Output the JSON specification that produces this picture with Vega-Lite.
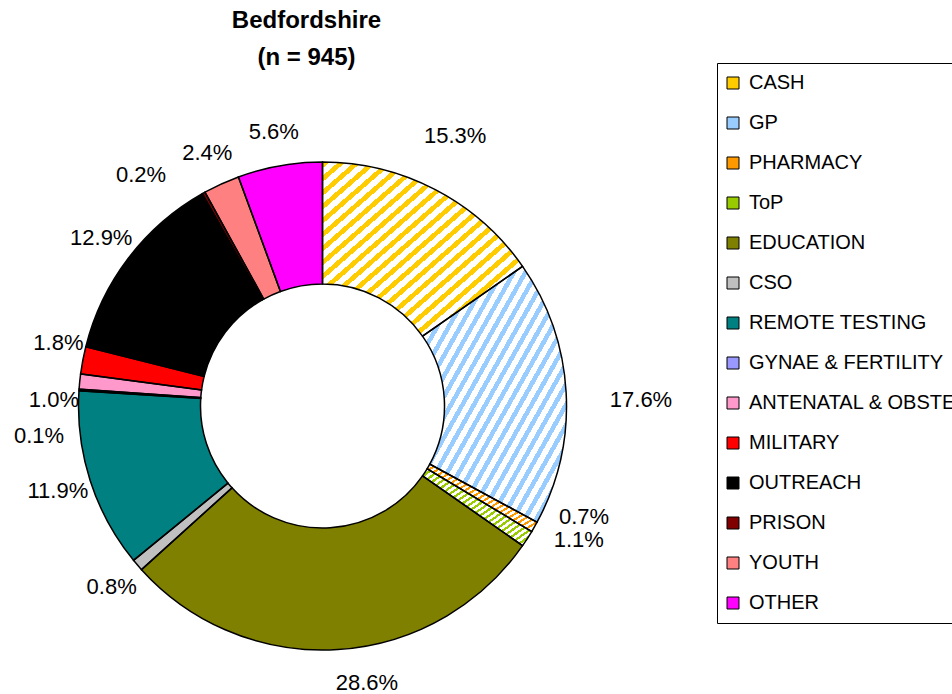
{
  "$schema": "https://vega.github.io/schema/vega-lite/v6.json",
  "autosize": {"type": "none"},
  "width": 645,
  "height": 488,
  "padding": {"left": 0, "top": 162, "right": 307, "bottom": 44},
  "background": "white",
  "config": {"view": {"stroke": null}, "font": "Liberation Sans"},
  "title": {
    "text": ["Bedfordshire", "(n = 945)"],
    "font": "Liberation Sans",
    "fontSize": 24,
    "fontWeight": "bold",
    "lineHeight": 37,
    "anchor": "middle",
    "dx": -16,
    "offset": -7,
    "color": "black"
  },
  "data": {
    "values": [
      {"idx": 1, "cat": "CASH", "share": 0.153},
      {"idx": 2, "cat": "GP", "share": 0.176},
      {"idx": 3, "cat": "PHARMACY", "share": 0.007},
      {"idx": 4, "cat": "ToP", "share": 0.011},
      {"idx": 5, "cat": "EDUCATION", "share": 0.286},
      {"idx": 6, "cat": "CSO", "share": 0.008},
      {"idx": 7, "cat": "REMOTE TESTING", "share": 0.119},
      {"idx": 8, "cat": "GYNAE & FERTILITY", "share": 0.001},
      {"idx": 9, "cat": "ANTENATAL & OBSTETRICS", "share": 0.010},
      {"idx": 10, "cat": "MILITARY", "share": 0.018},
      {"idx": 11, "cat": "OUTREACH", "share": 0.129},
      {"idx": 12, "cat": "PRISON", "share": 0.002},
      {"idx": 13, "cat": "YOUTH", "share": 0.024},
      {"idx": 14, "cat": "OTHER", "share": 0.056}
    ]
  },
  "encoding": {
    "theta": {"field": "share", "type": "quantitative", "stack": true},
    "order": {"field": "idx", "type": "quantitative"}
  },
  "layer": [
    {
      "mark": {"type": "arc", "outerRadius": 244, "innerRadius": 122},
      "encoding": {
        "color": {
          "field": "cat",
          "type": "nominal",
          "scale": {
            "domain": ["CASH", "GP", "PHARMACY", "ToP", "EDUCATION", "CSO", "REMOTE TESTING", "GYNAE & FERTILITY", "ANTENATAL & OBSTETRICS", "MILITARY", "OUTREACH", "PRISON", "YOUTH", "OTHER"],
            "range": ["#FFCC00", "#99CCFF", "#FF9900", "#99CC00", "#808000", "#C0C0C0", "#008080", "#9999FF", "#FF99CC", "#FF0000", "#000000", "#800000", "#FF8080", "#FF00FF"]
          },
          "legend": {
            "orient": "none",
            "legendX": 717,
            "legendY": -99,
            "direction": "vertical",
            "title": null,
            "symbolType": "square",
            "symbolSize": 144,
            "symbolOffset": -4,
            "symbolStrokeColor": "black",
            "symbolStrokeWidth": 1,
            "symbolOpacity": 1,
            "labelFont": "Liberation Sans",
            "labelFontSize": 20,
            "labelColor": "black",
            "labelLimit": 400,
            "labelOffset": 6,
            "rowPadding": 20,
            "padding": 10,
            "strokeColor": "black",
            "fillColor": "white"
          }
        }
      }
    },
    {
      "mark": {
        "type": "arc",
        "outerRadius": 244,
        "innerRadius": 122,
        "color": {
          "gradient": "linear",
          "x1": 0, "y1": 0, "x2": 1, "y2": 1,
          "stops": [
            {"offset": 0, "color": "rgba(255,255,255,0)"},
            {"offset": 0.018, "color": "rgba(255,255,255,0)"},
            {"offset": 0.018, "color": "#ffffff"},
            {"offset": 0.04, "color": "#ffffff"},
            {"offset": 0.04, "color": "rgba(255,255,255,0)"},
            {"offset": 0.058, "color": "rgba(255,255,255,0)"},
            {"offset": 0.058, "color": "#ffffff"},
            {"offset": 0.08, "color": "#ffffff"},
            {"offset": 0.08, "color": "rgba(255,255,255,0)"},
            {"offset": 0.098, "color": "rgba(255,255,255,0)"},
            {"offset": 0.098, "color": "#ffffff"},
            {"offset": 0.12, "color": "#ffffff"},
            {"offset": 0.12, "color": "rgba(255,255,255,0)"},
            {"offset": 0.138, "color": "rgba(255,255,255,0)"},
            {"offset": 0.138, "color": "#ffffff"},
            {"offset": 0.16, "color": "#ffffff"},
            {"offset": 0.16, "color": "rgba(255,255,255,0)"},
            {"offset": 0.178, "color": "rgba(255,255,255,0)"},
            {"offset": 0.178, "color": "#ffffff"},
            {"offset": 0.2, "color": "#ffffff"},
            {"offset": 0.2, "color": "rgba(255,255,255,0)"},
            {"offset": 0.218, "color": "rgba(255,255,255,0)"},
            {"offset": 0.218, "color": "#ffffff"},
            {"offset": 0.24, "color": "#ffffff"},
            {"offset": 0.24, "color": "rgba(255,255,255,0)"},
            {"offset": 0.258, "color": "rgba(255,255,255,0)"},
            {"offset": 0.258, "color": "#ffffff"},
            {"offset": 0.28, "color": "#ffffff"},
            {"offset": 0.28, "color": "rgba(255,255,255,0)"},
            {"offset": 0.298, "color": "rgba(255,255,255,0)"},
            {"offset": 0.298, "color": "#ffffff"},
            {"offset": 0.32, "color": "#ffffff"},
            {"offset": 0.32, "color": "rgba(255,255,255,0)"},
            {"offset": 0.338, "color": "rgba(255,255,255,0)"},
            {"offset": 0.338, "color": "#ffffff"},
            {"offset": 0.36, "color": "#ffffff"},
            {"offset": 0.36, "color": "rgba(255,255,255,0)"},
            {"offset": 0.378, "color": "rgba(255,255,255,0)"},
            {"offset": 0.378, "color": "#ffffff"},
            {"offset": 0.4, "color": "#ffffff"},
            {"offset": 0.4, "color": "rgba(255,255,255,0)"},
            {"offset": 0.418, "color": "rgba(255,255,255,0)"},
            {"offset": 0.418, "color": "#ffffff"},
            {"offset": 0.44, "color": "#ffffff"},
            {"offset": 0.44, "color": "rgba(255,255,255,0)"},
            {"offset": 0.458, "color": "rgba(255,255,255,0)"},
            {"offset": 0.458, "color": "#ffffff"},
            {"offset": 0.48, "color": "#ffffff"},
            {"offset": 0.48, "color": "rgba(255,255,255,0)"},
            {"offset": 0.498, "color": "rgba(255,255,255,0)"},
            {"offset": 0.498, "color": "#ffffff"},
            {"offset": 0.52, "color": "#ffffff"},
            {"offset": 0.52, "color": "rgba(255,255,255,0)"},
            {"offset": 0.538, "color": "rgba(255,255,255,0)"},
            {"offset": 0.538, "color": "#ffffff"},
            {"offset": 0.56, "color": "#ffffff"},
            {"offset": 0.56, "color": "rgba(255,255,255,0)"},
            {"offset": 0.578, "color": "rgba(255,255,255,0)"},
            {"offset": 0.578, "color": "#ffffff"},
            {"offset": 0.6, "color": "#ffffff"},
            {"offset": 0.6, "color": "rgba(255,255,255,0)"},
            {"offset": 0.618, "color": "rgba(255,255,255,0)"},
            {"offset": 0.618, "color": "#ffffff"},
            {"offset": 0.64, "color": "#ffffff"},
            {"offset": 0.64, "color": "rgba(255,255,255,0)"},
            {"offset": 0.658, "color": "rgba(255,255,255,0)"},
            {"offset": 0.658, "color": "#ffffff"},
            {"offset": 0.68, "color": "#ffffff"},
            {"offset": 0.68, "color": "rgba(255,255,255,0)"},
            {"offset": 0.698, "color": "rgba(255,255,255,0)"},
            {"offset": 0.698, "color": "#ffffff"},
            {"offset": 0.72, "color": "#ffffff"},
            {"offset": 0.72, "color": "rgba(255,255,255,0)"},
            {"offset": 0.738, "color": "rgba(255,255,255,0)"},
            {"offset": 0.738, "color": "#ffffff"},
            {"offset": 0.76, "color": "#ffffff"},
            {"offset": 0.76, "color": "rgba(255,255,255,0)"},
            {"offset": 0.778, "color": "rgba(255,255,255,0)"},
            {"offset": 0.778, "color": "#ffffff"},
            {"offset": 0.8, "color": "#ffffff"},
            {"offset": 0.8, "color": "rgba(255,255,255,0)"},
            {"offset": 0.818, "color": "rgba(255,255,255,0)"},
            {"offset": 0.818, "color": "#ffffff"},
            {"offset": 0.84, "color": "#ffffff"},
            {"offset": 0.84, "color": "rgba(255,255,255,0)"},
            {"offset": 0.858, "color": "rgba(255,255,255,0)"},
            {"offset": 0.858, "color": "#ffffff"},
            {"offset": 0.88, "color": "#ffffff"},
            {"offset": 0.88, "color": "rgba(255,255,255,0)"},
            {"offset": 0.898, "color": "rgba(255,255,255,0)"},
            {"offset": 0.898, "color": "#ffffff"},
            {"offset": 0.92, "color": "#ffffff"},
            {"offset": 0.92, "color": "rgba(255,255,255,0)"},
            {"offset": 0.938, "color": "rgba(255,255,255,0)"},
            {"offset": 0.938, "color": "#ffffff"},
            {"offset": 0.96, "color": "#ffffff"},
            {"offset": 0.96, "color": "rgba(255,255,255,0)"},
            {"offset": 0.978, "color": "rgba(255,255,255,0)"},
            {"offset": 0.978, "color": "#ffffff"},
            {"offset": 1, "color": "#ffffff"}
          ]
        }
      },
      "encoding": {
        "fillOpacity": {
          "condition": {"test": "indexof(['CASH','GP','PHARMACY','ToP'], datum.cat) >= 0", "value": 1},
          "value": 0
        }
      }
    },
    {
      "mark": {"type": "arc", "outerRadius": 244, "innerRadius": 122, "fillOpacity": 0, "stroke": "black", "strokeWidth": 1.5}
    },
    {
      "mark": {"type": "text", "radius": 278, "fontSize": 22, "font": "Liberation Sans", "color": "black"},
      "encoding": {
        "text": {"field": "share", "type": "quantitative", "format": ".1%"},
        "opacity": {"condition": {"test": "indexof(['OTHER','YOUTH','OUTREACH','CSO','REMOTE TESTING'], datum.cat) >= 0", "value": 1}, "value": 0}
      }
    },
    {
      "mark": {"type": "text", "radius": 300, "dx": -6, "dy": -4, "fontSize": 22, "font": "Liberation Sans", "color": "black"},
      "encoding": {
        "text": {"field": "share", "type": "quantitative", "format": ".1%"},
        "opacity": {"condition": {"test": "datum.cat === 'CASH'", "value": 1}, "value": 0}
      }
    },
    {
      "mark": {"type": "text", "radius": 319, "dy": 12, "fontSize": 22, "font": "Liberation Sans", "color": "black"},
      "encoding": {
        "text": {"field": "share", "type": "quantitative", "format": ".1%"},
        "opacity": {"condition": {"test": "datum.cat === 'GP'", "value": 1}, "value": 0}
      }
    },
    {
      "mark": {"type": "text", "radius": 278, "dx": 27, "fontSize": 22, "font": "Liberation Sans", "color": "black"},
      "encoding": {
        "text": {"field": "share", "type": "quantitative", "format": ".1%"},
        "opacity": {"condition": {"test": "datum.cat === 'EDUCATION'", "value": 1}, "value": 0}
      }
    },
    {
      "mark": {"type": "text", "radius": 278, "dx": 20, "dy": -27, "fontSize": 22, "font": "Liberation Sans", "color": "black"},
      "encoding": {
        "text": {"field": "share", "type": "quantitative", "format": ".1%"},
        "opacity": {"condition": {"test": "datum.cat === 'PHARMACY'", "value": 1}, "value": 0}
      }
    },
    {
      "mark": {"type": "text", "radius": 278, "dx": 23, "dy": -17, "fontSize": 22, "font": "Liberation Sans", "color": "black"},
      "encoding": {
        "text": {"field": "share", "type": "quantitative", "format": ".1%"},
        "opacity": {"condition": {"test": "datum.cat === 'ToP'", "value": 1}, "value": 0}
      }
    },
    {
      "mark": {"type": "text", "radius": 278, "dx": 8, "dy": 22, "fontSize": 22, "font": "Liberation Sans", "color": "black"},
      "encoding": {
        "text": {"field": "share", "type": "quantitative", "format": ".1%"},
        "opacity": {"condition": {"test": "datum.cat === 'ANTENATAL & OBSTETRICS'", "value": 1}, "value": 0}
      }
    },
    {
      "mark": {"type": "text", "radius": 278, "dx": -6, "dy": 48, "fontSize": 22, "font": "Liberation Sans", "color": "black"},
      "encoding": {
        "text": {"field": "share", "type": "quantitative", "format": ".1%"},
        "opacity": {"condition": {"test": "datum.cat === 'GYNAE & FERTILITY'", "value": 1}, "value": 0}
      }
    },
    {
      "mark": {"type": "text", "radius": 278, "dx": 9, "dy": -11, "fontSize": 22, "font": "Liberation Sans", "color": "black"},
      "encoding": {
        "text": {"field": "share", "type": "quantitative", "format": ".1%"},
        "opacity": {"condition": {"test": "datum.cat === 'MILITARY'", "value": 1}, "value": 0}
      }
    },
    {
      "mark": {"type": "text", "radius": 278, "dx": -46, "dy": 12, "fontSize": 22, "font": "Liberation Sans", "color": "black"},
      "encoding": {
        "text": {"field": "share", "type": "quantitative", "format": ".1%"},
        "opacity": {"condition": {"test": "datum.cat === 'PRISON'", "value": 1}, "value": 0}
      }
    }
  ]
}
